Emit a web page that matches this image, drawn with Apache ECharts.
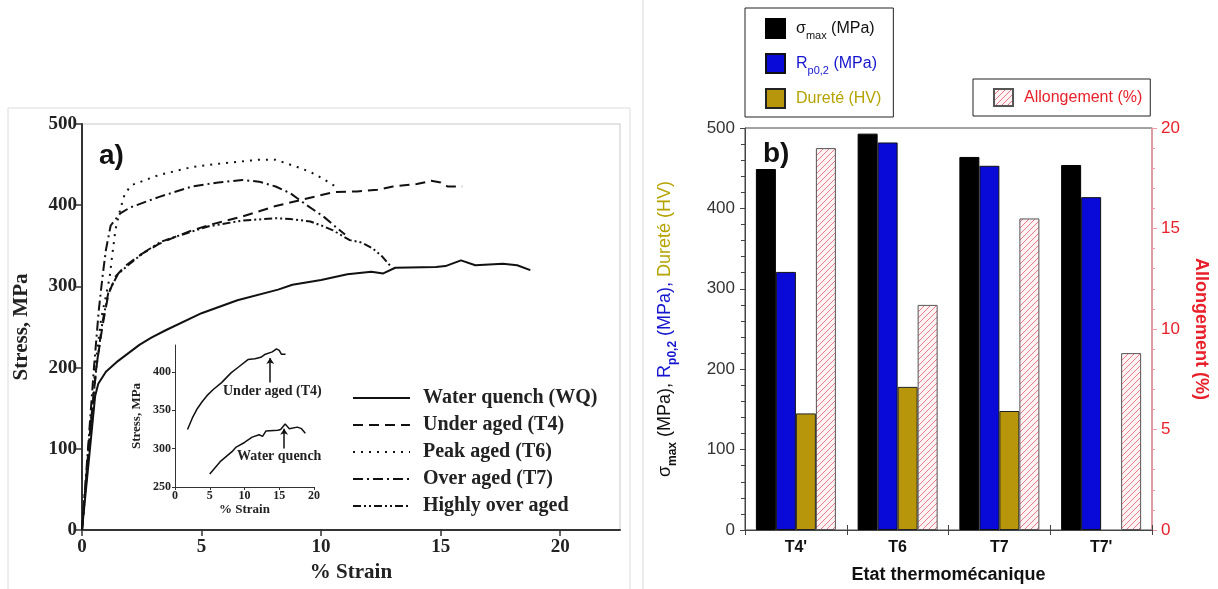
<!DOCTYPE html>
<html>
<head>
<meta charset="utf-8">
<script src="https://cdn.jsdelivr.net/npm/echarts@6/dist/echarts.min.js"></script>
<style>html,body{margin:0;padding:0;background:#fff}#c{width:1218px;height:589px}</style>
</head>
<body>
<div id="c"></div>
<script>
// ---- Panel a: stress-strain curves [strain %, stress MPa] ----
const curveWQ = [[0,0],[0.3,90],[0.55,165],[0.68,180],[1.0,195],[1.5,208],[2.4,228],[2.9,237],[3.5,246],[5.0,267],[6.5,283],[8.2,296],[8.8,302],[10.0,308],[11.1,315],[12.1,318],[12.6,316],[13.1,323],[14.8,324],[15.2,325],[15.85,332],[16.45,326],[17.6,328],[18.2,326],[18.75,320]];
const curveT4 = [[0,0],[0.3,110],[0.6,200],[0.85,250],[1.1,290],[1.4,312],[1.8,325],[2.5,340],[3.2,352],[3.9,361],[4.6,369],[5.5,377],[6.7,386],[8.1,399],[9.1,406],[10.5,416],[11.5,417],[12.35,419],[13.0,423],[14.0,426],[14.6,430],[15.0,428],[15.3,423],[15.9,423]];
const curveT6 = [[0,0],[0.3,100],[0.55,200],[0.8,260],[1.0,288],[1.15,310],[1.25,335],[1.4,370],[1.6,395],[1.8,415],[2.1,425],[3.2,437],[4.6,447],[6.0,452],[7.4,456],[8.1,456],[9.0,447],[9.55,441],[10.05,433],[10.55,424]];
const curveT7 = [[0,0],[0.25,100],[0.5,200],[0.7,270],[0.85,310],[1.0,345],[1.2,375],[1.6,390],[2.0,397],[3.2,410],[4.6,423],[5.7,428],[6.7,431],[7.4,429],[8.1,423],[8.7,415],[9.4,400],[10.1,386],[10.7,371],[11.0,364]];
const curveHOA = [[0,0],[0.3,110],[0.6,200],[0.85,255],[1.1,292],[1.5,315],[2.0,328],[2.6,342],[3.3,355],[4.0,362],[5.3,374],[6.7,381],[8.1,384],[8.7,383],[9.55,380],[10.1,374],[10.5,369],[11.2,357],[11.7,354],[12.15,347],[12.55,337],[12.9,325]];
const curveNames = ['Water quench (WQ)','Under aged (T4)','Peak aged (T6)','Over aged (T7)','Highly over aged'];
const strainTicks = [0,5,10,15,20];
const insetStrainTicks = [0,5,10,15,20];

// ---- Panel b: mechanical properties ----
const etats = ["T4'", 'T6', 'T7', "T7'"];
const sigmaMax = [449, 493, 464, 454];
const rp02 = [321, 482, 453, 414];
const durete = [145, 178, 148, null];
const allongement = [19.0, 11.2, 15.5, 8.8];

const SERIF = '"Liberation Serif", "DejaVu Serif", serif';
const SANS = '"Liberation Sans", Arial, sans-serif';

function hatch(){
  const c = document.createElement('canvas');
  c.width = 6; c.height = 6;
  const g = c.getContext('2d');
  g.fillStyle = '#fff3f4'; g.fillRect(0,0,6,6);
  g.strokeStyle = '#e8798a'; g.lineWidth = 1;
  g.beginPath();
  g.moveTo(0,6); g.lineTo(6,0);
  g.moveTo(-3,3); g.lineTo(3,-3);
  g.moveTo(3,9); g.lineTo(9,3);
  g.stroke();
  return c;
}
const hatchFill = {image: hatch(), repeat: 'repeat'};

const dashes = ['solid', [10,6], [2,6], [10,4,2,4], [8,3,2,3,2,3]];
const curves = [curveWQ, curveT4, curveT6, curveT7, curveHOA];

const mainSeries = curves.map((d, i) => ({
  type: 'line', name: curveNames[i], xAxisIndex: 0, yAxisIndex: 0,
  data: d, symbol: 'none', showSymbol: false, smooth: false,
  lineStyle: {color: '#111', width: 2, type: dashes[i]},
  itemStyle: {color: '#111'}
}));

const arrowLine = (x, y0, y1) => ({
  symbol: ['none','arrow'], symbolSize: 6, silent: true,
  label: {show: false},
  lineStyle: {color: '#111', width: 1.5, type: 'solid'},
  data: [[{coord: [x, y0]}, {coord: [x, y1]}]]
});

const insetSeries = [
  {type: 'line', name: 'inset WQ', xAxisIndex: 1, yAxisIndex: 1,
   data: curveWQ.filter(p => p[0] >= 5.0), symbol: 'none',
   lineStyle: {color: '#111', width: 1.5}, markLine: arrowLine(15.7, 300, 326)},
  {type: 'line', name: 'inset T4', xAxisIndex: 1, yAxisIndex: 1,
   data: curveT4.filter(p => p[0] >= 1.8), symbol: 'none',
   lineStyle: {color: '#111', width: 1.5}, markLine: arrowLine(13.7, 386, 418)}
];

const barBase = {type: 'bar', xAxisIndex: 2, barWidth: 20, barGap: '0%'};
const barSeries = [
  Object.assign({}, barBase, {name: 'sigma', yAxisIndex: 2, data: sigmaMax,
    itemStyle: {color: '#000', borderColor: '#000', borderWidth: 1}}),
  Object.assign({}, barBase, {name: 'rp', yAxisIndex: 2, data: rp02,
    itemStyle: {color: '#0a0ad8', borderColor: '#111', borderWidth: 1}}),
  Object.assign({}, barBase, {name: 'hv', yAxisIndex: 2, data: durete,
    itemStyle: {color: '#b8960c', borderColor: '#222', borderWidth: 1}}),
  Object.assign({}, barBase, {name: 'allong', yAxisIndex: 3, data: allongement,
    itemStyle: {color: hatchFill, borderColor: '#555', borderWidth: 1}})
];

const chart = echarts.init(document.getElementById('c'), null, {renderer: 'canvas'});
chart.setOption({
  animation: false,
  backgroundColor: '#fff',
  grid: [
    {left: 82, top: 124, width: 538, height: 406, show: true, borderColor: '#c8c8c8', borderWidth: 1, backgroundColor: 'transparent'},
    {left: 175, top: 345, width: 139, height: 142, show: false},
    {left: 745, top: 128, width: 407, height: 405, show: true, borderColor: '#444', borderWidth: 1, backgroundColor: 'transparent'}
  ],
  xAxis: [
    {type: 'value', gridIndex: 0, min: 0, max: 22.5, interval: 5,
     name: '% Strain', nameLocation: 'middle', nameGap: 31,
     nameTextStyle: {fontFamily: SERIF, fontWeight: 'bold', fontSize: 21, color: '#222'},
     axisLine: {show: true, lineStyle: {color: '#333', width: 2}},
     axisTick: {show: true, inside: false, length: 6, customValues: strainTicks, lineStyle: {color: '#333', width: 1.5}},
     axisLabel: {customValues: strainTicks, fontFamily: SERIF, fontWeight: 'bold', fontSize: 19, color: '#222', margin: 8},
     splitLine: {show: false}},
    {type: 'value', gridIndex: 1, min: 0, max: 20, interval: 5,
     name: '% Strain', nameLocation: 'middle', nameGap: 15,
     nameTextStyle: {fontFamily: SERIF, fontWeight: 'bold', fontSize: 13, color: '#222'},
     axisLine: {show: true, lineStyle: {color: '#333', width: 1}},
     axisTick: {show: true, length: 3, customValues: insetStrainTicks, lineStyle: {color: '#333'}},
     axisLabel: {customValues: insetStrainTicks, fontFamily: SERIF, fontWeight: 'bold', fontSize: 12, color: '#222', margin: 3},
     splitLine: {show: false}},
    {type: 'category', gridIndex: 2, data: etats, position: 'bottom',
     name: 'Etat thermomécanique', nameLocation: 'middle', nameGap: 36,
     nameTextStyle: {fontFamily: SANS, fontWeight: 'bold', fontSize: 18, color: '#111'},
     axisLine: {show: true, lineStyle: {color: '#444', width: 1}},
     axisTick: {show: true, inside: true, length: 5, lineStyle: {color: '#444'}},
     axisLabel: {fontFamily: SANS, fontWeight: 'bold', fontSize: 16, color: '#111', margin: 10},
     splitLine: {show: false}},
    {type: 'category', gridIndex: 2, data: etats, position: 'top',
     axisLine: {show: true, lineStyle: {color: '#444', width: 1}},
     axisTick: {show: true, inside: true, length: 5, lineStyle: {color: '#444'}},
     axisLabel: {show: false}, splitLine: {show: false}}
  ],
  yAxis: [
    {type: 'value', gridIndex: 0, min: 0, max: 500, interval: 100,
     name: 'Stress, MPa', nameLocation: 'middle', nameGap: 50, nameRotate: 90,
     nameTextStyle: {fontFamily: SERIF, fontWeight: 'bold', fontSize: 21, color: '#222'},
     axisLine: {show: true, lineStyle: {color: '#333', width: 2}},
     axisTick: {show: true, inside: false, length: 6, lineStyle: {color: '#333', width: 1.5}},
     axisLabel: {fontFamily: SERIF, fontWeight: 'bold', fontSize: 19, color: '#222', margin: 5},
     splitLine: {show: false}},
    {type: 'value', gridIndex: 1, min: 250, max: 435, interval: 50,
     name: 'Stress, MPa', nameLocation: 'middle', nameGap: 32, nameRotate: 90,
     nameTextStyle: {fontFamily: SERIF, fontWeight: 'bold', fontSize: 13, color: '#222'},
     axisLine: {show: true, lineStyle: {color: '#333', width: 1}},
     axisTick: {show: true, length: 3, lineStyle: {color: '#333'}},
     axisLabel: {fontFamily: SERIF, fontWeight: 'bold', fontSize: 12, color: '#222', margin: 4, showMaxLabel: false},
     splitLine: {show: false}},
    {type: 'value', gridIndex: 2, min: 0, max: 500, interval: 100, position: 'left',
     name: '{k|σ}{ks|max}{k| (MPa), }{b|R}{bs|p0,2}{b| (MPa), }{g|Dureté (HV)}',
     nameLocation: 'middle', nameGap: 66, nameRotate: 90,
     nameTextStyle: {
       fontFamily: SANS, fontSize: 18,
       rich: {
         k: {fontFamily: SANS, fontSize: 18, color: '#111', verticalAlign: 'middle', lineHeight: 28},
         ks: {fontFamily: SANS, fontSize: 12, fontWeight: 'bold', color: '#111', verticalAlign: 'bottom', lineHeight: 14, padding: [14,0,0,0]},
         b: {fontFamily: SANS, fontSize: 18, color: '#1515d0', verticalAlign: 'middle', lineHeight: 28},
         bs: {fontFamily: SANS, fontSize: 12, fontWeight: 'bold', color: '#1515d0', verticalAlign: 'bottom', lineHeight: 14, padding: [14,0,0,0]},
         g: {fontFamily: SANS, fontSize: 18, color: '#b5a300', verticalAlign: 'middle', lineHeight: 28}
       }
     },
     axisLine: {show: true, lineStyle: {color: '#444', width: 1}},
     axisTick: {show: true, inside: false, length: 5, lineStyle: {color: '#444'}},
     minorTick: {show: true, splitNumber: 5, length: 4, lineStyle: {color: '#444'}},
     axisLabel: {fontFamily: SANS, fontSize: 17, color: '#333', margin: 10},
     splitLine: {show: false}},
    {type: 'value', gridIndex: 2, min: 0, max: 20, interval: 5, position: 'right',
     name: 'Allongement (%)', nameLocation: 'middle', nameGap: 40, nameRotate: -90,
     nameTextStyle: {fontFamily: SANS, fontWeight: 'bold', fontSize: 18, color: '#e8202a'},
     axisLine: {show: true, lineStyle: {color: '#f29aa4', width: 1.5}},
     axisTick: {show: true, inside: false, length: 5, lineStyle: {color: '#f29aa4'}},
     minorTick: {show: true, splitNumber: 5, length: 3, lineStyle: {color: '#f29aa4'}},
     axisLabel: {fontFamily: SANS, fontSize: 17, color: '#e8202a', margin: 9},
     splitLine: {show: false}}
  ],
  legend: [
    {data: curveNames, orient: 'vertical', left: 352, top: 388, padding: 0,
     itemWidth: 57, itemHeight: 14, itemGap: 7, selectedMode: false,
     itemStyle: {opacity: 0},
     textStyle: {fontFamily: SERIF, fontWeight: 'bold', fontSize: 20, color: '#222', lineHeight: 20, padding: [0,0,0,8]}},
    {data: [
       {name: 'sigma', textStyle: {color: '#111'}},
       {name: 'rp', textStyle: {color: '#1515d0'}},
       {name: 'hv', textStyle: {color: '#b5a300'}}],
     formatter: function(n){
       if (n === 'sigma') return '{m|σ}{s|max}{m| (MPa)}';
       if (n === 'rp') return '{m|R}{s|p0,2}{m| (MPa)}';
       return '{m|Dureté (HV)}';
     },
     icon: 'rect',
     orient: 'vertical', left: 745, top: 8, padding: [8, 12, 6, 20],
     borderColor: '#222', borderWidth: 1, itemWidth: 19, itemHeight: 19, itemGap: 10,
     selectedMode: false,
     textStyle: {fontFamily: SANS, fontSize: 16, padding: [0,0,0,6],
       rich: {m: {fontFamily: SANS, fontSize: 16, verticalAlign: 'middle', lineHeight: 25, height: 25},
              s: {fontFamily: SANS, fontSize: 11, verticalAlign: 'bottom', lineHeight: 12, padding: [13,0,0,0]}}}},
    {data: [{name: 'allong', textStyle: {color: '#e8202a'}}],
     formatter: function(){ return 'Allongement (%)'; },
     icon: 'rect',
     orient: 'horizontal', left: 973, top: 79, padding: [9, 8, 9, 20],
     borderColor: '#222', borderWidth: 1, itemWidth: 19, itemHeight: 17,
     selectedMode: false,
     textStyle: {fontFamily: SANS, fontSize: 16, padding: [0,0,0,6]}}
  ],
  graphic: [
    {type: 'rect', silent: true, z: -1, shape: {x: 8, y: 108, width: 622, height: 500}, style: {fill: 'none', stroke: '#dcdcdc', lineWidth: 1}},
    {type: 'line', silent: true, z: -1, shape: {x1: 643, y1: 0, x2: 643, y2: 589}, style: {stroke: '#d6d6d6', lineWidth: 1}},
    {type: 'text', silent: true, left: 99, top: 142, style: {text: 'a)', font: 'bold 28px "Liberation Sans", Arial, sans-serif', fill: '#111'}},
    {type: 'text', silent: true, left: 763, top: 140, style: {text: 'b)', font: 'bold 28px "Liberation Sans", Arial, sans-serif', fill: '#111'}},
    {type: 'text', silent: true, left: 223, top: 384, style: {text: 'Under aged (T4)', font: 'bold 14px "Liberation Serif", serif', fill: '#222'}},
    {type: 'text', silent: true, left: 237, top: 449, style: {text: 'Water quench', font: 'bold 14px "Liberation Serif", serif', fill: '#222'}}
  ],
  series: mainSeries.concat(insetSeries, barSeries)
});
</script>
</body>
</html>
